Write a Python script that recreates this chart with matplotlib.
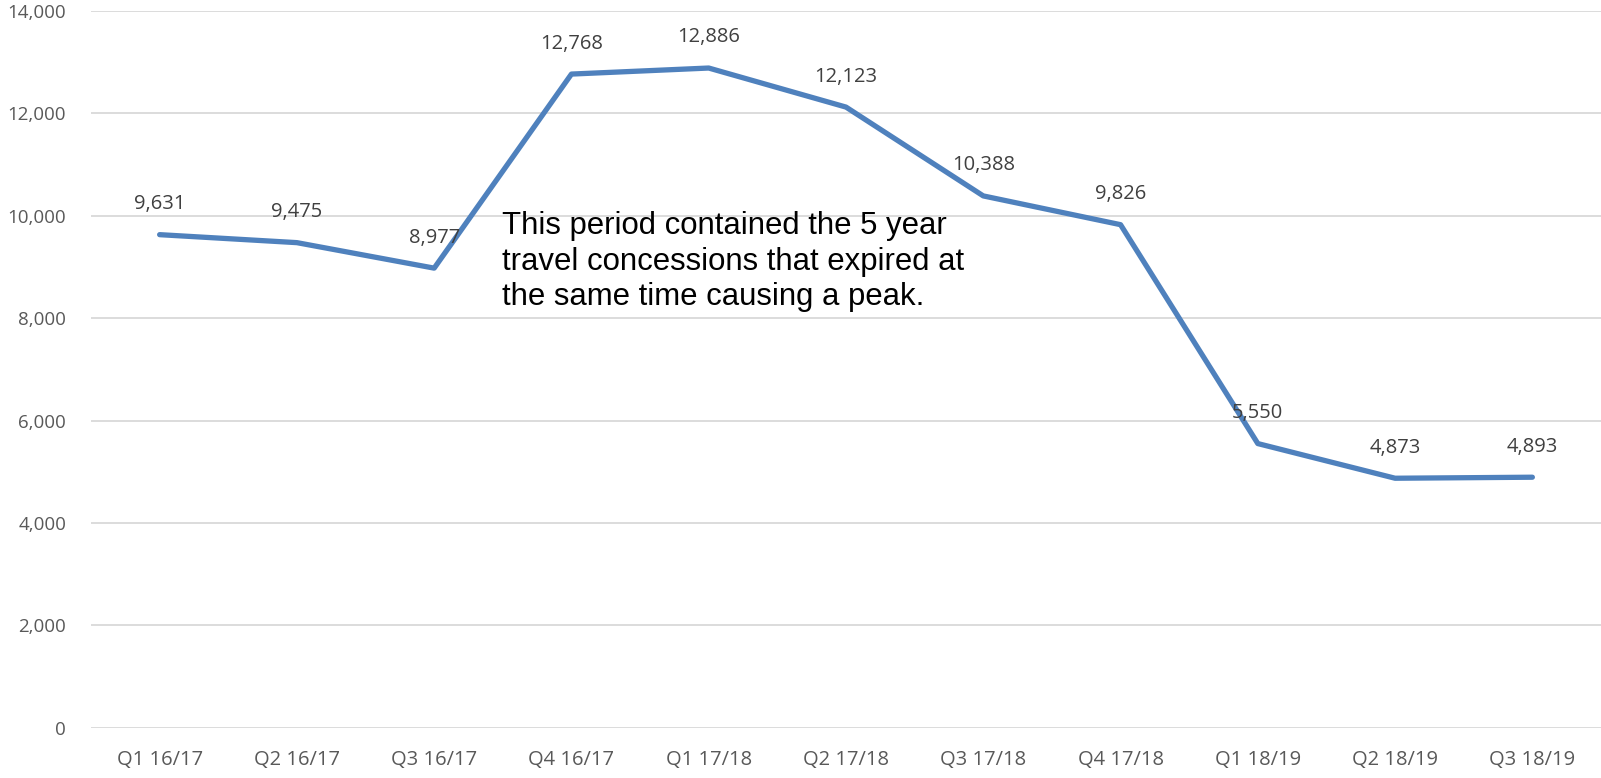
import matplotlib.pyplot as plt
from matplotlib.ticker import FuncFormatter

quarters = ["Q1 16/17", "Q2 16/17", "Q3 16/17", "Q4 16/17", "Q1 17/18", "Q2 17/18",
            "Q3 17/18", "Q4 17/18", "Q1 18/19", "Q2 18/19", "Q3 18/19"]
counts = [9631, 9475, 8977, 12768, 12886, 12123, 10388, 9826, 5550, 4873, 4893]

note = ("This period contained the 5 year\n"
        "travel concessions that expired at\n"
        "the same time causing a peak.")

LINE = "#4F81BD"
GREY = "#595959"

fig = plt.figure(figsize=(16.01, 7.78), dpi=100)
ax = fig.add_axes([91 / 1601, 50.3 / 778, 1 - 91 / 1601, 716.7 / 778])

x = range(len(quarters))
ax.plot(x, counts, color=LINE, lw=3.8, solid_capstyle="round", solid_joinstyle="round", zorder=3)

# value labels sit just above each point
for i, v in zip(x, counts):
    ax.annotate(f"{v:,}", (i, v), xytext=(0, 22), textcoords="offset points",
                ha="center", va="center", fontsize=14.5, color="#404040", family="Open Sans")

ax.set_xlim(-0.5, len(quarters) - 0.5)
ax.set_ylim(0, 14000)
ax.set_yticks(range(0, 14001, 2000))
ax.yaxis.set_major_formatter(FuncFormatter(lambda v, _: f"{int(v):,}"))
ax.set_xticks(list(x))
ax.set_xticklabels(quarters)

ax.grid(axis="y", color="#D9D9D9", lw=1.3)
ax.set_axisbelow(True)
for s in ax.spines.values():
    s.set_visible(False)
ax.tick_params(length=0, labelcolor=GREY)
ax.tick_params(axis="y", pad=18, labelsize=13.5)
ax.tick_params(axis="x", pad=16, labelsize=14.5)
for t in ax.get_xticklabels() + ax.get_yticklabels():
    t.set_family("Open Sans")

fig.text(502 / 1601, 1 - 211 / 778, note, ha="left", va="top", fontsize=22.4,
         family="Liberation Sans", color="black", linespacing=1.24)

fig.savefig("out.png", dpi=100)
